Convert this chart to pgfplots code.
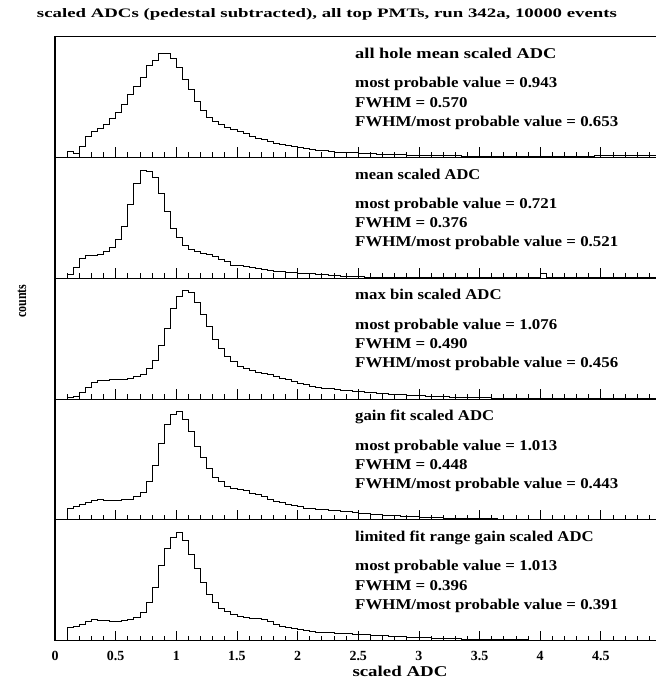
\documentclass[border=0pt]{standalone}
\usepackage{fontspec}
\setmainfont{Liberation Serif}
\usepackage{graphicx}
\usepackage{pgfplots}
\usepackage{pgfplotstable}
\pgfplotsset{compat=1.18}

% bin left edges (width 0.05) and contents; last row closes the final bin
\pgfplotstableread{
x y
0.10 0
0.10 19
0.15 13
0.20 34
0.25 64
0.30 78
0.35 86
0.40 99
0.45 116
0.50 136
0.55 159
0.60 189
0.65 213
0.70 241
0.75 277
0.80 291
0.85 313
0.90 313
0.95 296
1.00 271
1.05 233
1.10 203
1.15 169
1.20 141
1.25 119
1.30 108
1.35 98
1.40 89
1.45 83
1.50 78
1.55 71
1.60 63
1.65 58
1.70 53
1.75 48
1.80 43
1.85 39
1.90 36
1.95 33
2.00 30
2.05 26
2.10 24
2.15 22
2.20 20
2.25 19
2.30 16
2.35 16
2.40 15
2.45 14
2.50 13
2.55 12
2.60 11
2.65 10
2.70 10
2.75 9
2.80 8
2.85 8
2.90 7
2.95 7
3.00 6
3.05 6
3.10 6
3.15 5
3.20 5
3.25 5
3.30 5
3.35 4
3.40 4
3.45 4
3.50 4
3.55 4
3.60 4
3.65 3
3.70 3
3.75 3
3.80 3
3.85 3
3.90 3
3.95 3
4.00 3
4.05 3
4.10 3
4.15 3
4.20 3
4.25 3
4.30 3
4.35 4
4.40 4
4.45 5
4.50 5
4.55 5
4.60 6
4.65 6
4.70 6
4.75 6
4.80 6
4.85 6
4.90 6
4.95 6
5.00 6
}\histAllHole

\pgfplotstableread{
x y
0.10 0
0.10 11
0.15 33
0.20 61
0.25 68
0.30 68
0.35 71
0.40 80
0.45 92
0.50 116
0.55 155
0.60 221
0.65 283
0.70 324
0.75 321
0.80 301
0.85 253
0.90 200
0.95 151
1.00 123
1.05 100
1.10 88
1.15 81
1.20 75
1.25 72
1.30 65
1.35 58
1.40 50
1.45 40
1.50 38
1.55 36
1.60 33
1.65 30
1.70 28
1.75 25
1.80 22
1.85 20
1.90 19
1.95 17
2.00 16
2.05 15
2.10 14
2.15 12
2.20 12
2.25 10
2.30 9
2.35 7
2.40 6
2.45 5
2.50 5
2.55 4
2.60 4
2.65 4
2.70 3
2.75 3
2.80 3
2.85 3
2.90 3
2.95 3
3.00 3
3.05 3
3.10 3
3.15 3
3.20 2
3.25 2
3.30 2
3.35 2
3.40 2
3.45 2
3.50 2
3.55 2
3.60 2
3.65 2
3.70 2
3.75 2
3.80 2
3.85 2
3.90 2
3.95 2
4.00 15
4.05 2
4.10 2
4.15 2
4.20 2
4.25 2
4.30 2
4.35 2
4.40 2
4.45 2
4.50 2
4.55 2
4.60 2
4.65 2
4.70 2
4.75 2
4.80 2
4.85 2
4.90 2
4.95 2
5.00 2
}\histMean

\pgfplotstableread{
x y
0.10 0
0.10 5
0.15 9
0.20 20
0.25 35
0.30 51
0.35 55
0.40 57
0.45 58
0.50 60
0.55 59
0.60 63
0.65 68
0.70 75
0.75 92
0.80 117
0.85 162
0.90 213
0.95 272
1.00 308
1.05 326
1.10 321
1.15 290
1.20 255
1.25 218
1.30 178
1.35 151
1.40 129
1.45 114
1.50 99
1.55 93
1.60 86
1.65 80
1.70 76
1.75 73
1.80 69
1.85 63
1.90 59
1.95 53
2.00 47
2.05 43
2.10 39
2.15 36
2.20 33
2.25 31
2.30 29
2.35 27
2.40 25
2.45 23
2.50 22
2.55 20
2.60 19
2.65 17
2.70 16
2.75 15
2.80 14
2.85 13
2.90 12
2.95 11
3.00 10
3.05 9
3.10 8
3.15 8
3.20 7
3.25 6
3.30 6
3.35 5
3.40 5
3.45 4
3.50 4
3.55 4
3.60 3
3.65 3
3.70 3
3.75 3
3.80 3
3.85 3
3.90 2
3.95 2
4.00 2
4.05 2
4.10 2
4.15 2
4.20 2
4.25 2
4.30 2
4.35 2
4.40 2
4.45 2
4.50 2
4.55 2
4.60 2
4.65 2
4.70 2
4.75 2
4.80 2
4.85 2
4.90 2
4.95 2
5.00 2
}\histMaxBin

\pgfplotstableread{
x y
0.10 0
0.10 35
0.15 39
0.20 45
0.25 53
0.30 59
0.35 61
0.40 58
0.45 58
0.50 58
0.55 60
0.60 62
0.65 69
0.70 83
0.75 115
0.80 163
0.85 228
0.90 287
0.95 315
1.00 325
1.05 302
1.10 266
1.15 220
1.20 186
1.25 154
1.30 126
1.35 114
1.40 100
1.45 93
1.50 90
1.55 87
1.60 79
1.65 75
1.70 70
1.75 62
1.80 55
1.85 51
1.90 46
1.95 43
2.00 40
2.05 35
2.10 33
2.15 32
2.20 30
2.25 29
2.30 27
2.35 26
2.40 24
2.45 22
2.50 20
2.55 18
2.60 17
2.65 15
2.70 14
2.75 13
2.80 12
2.85 11
2.90 10
2.95 9
3.00 8
3.05 7
3.10 6
3.15 6
3.20 5
3.25 5
3.30 4
3.35 4
3.40 3
3.45 3
3.50 3
3.55 3
3.60 3
3.65 2
3.70 2
3.75 2
3.80 2
3.85 2
3.90 2
3.95 2
4.00 2
4.05 2
4.10 2
4.15 2
4.20 2
4.25 2
4.30 2
4.35 2
4.40 2
4.45 2
4.50 2
4.55 2
4.60 2
4.65 2
4.70 2
4.75 2
4.80 2
4.85 2
4.90 2
4.95 2
5.00 2
}\histGainFit

\pgfplotstableread{
x y
0.10 0
0.10 39
0.15 43
0.20 50
0.25 57
0.30 64
0.35 62
0.40 60
0.45 59
0.50 59
0.55 60
0.60 63
0.65 70
0.70 84
0.75 116
0.80 160
0.85 225
0.90 277
0.95 309
1.00 325
1.05 302
1.10 260
1.15 218
1.20 175
1.25 140
1.30 114
1.35 98
1.40 87
1.45 78
1.50 73
1.55 69
1.60 67
1.65 68
1.70 64
1.75 58
1.80 50
1.85 44
1.90 40
1.95 36
2.00 35
2.05 31
2.10 28
2.15 25
2.20 25
2.25 24
2.30 23
2.35 22
2.40 21
2.45 20
2.50 19
2.55 18
2.60 17
2.65 16
2.70 15
2.75 14
2.80 13
2.85 12
2.90 11
2.95 10
3.00 9
3.05 9
3.10 8
3.15 7
3.20 7
3.25 6
3.30 6
3.35 5
3.40 5
3.45 4
3.50 4
3.55 4
3.60 3
3.65 3
3.70 3
3.75 3
3.80 3
3.85 3
3.90 2
3.95 2
4.00 2
4.05 2
4.10 2
4.15 2
4.20 2
4.25 2
4.30 2
4.35 2
4.40 2
4.45 2
4.50 2
4.55 2
4.60 2
4.65 2
4.70 2
4.75 2
4.80 2
4.85 2
4.90 2
4.95 2
5.00 2
}\histLimitedFit

\pgfplotsset{
  panel/.style={
    scale only axis,
    width=606.5bp, height=120.8bp,
    anchor=south west,
    xmin=0, xmax=5, ymin=0, ymax=362,
    axis line style={black, line width=1.1bp},
    ytick=\empty,
    xtick={0,0.5,...,5},
    minor x tick num=4,
    xtick pos=bottom,
    tick align=inside,
    major tick length=10bp,
    minor tick length=5bp,
    every tick/.style={black, line width=0.8bp},
    xticklabels={},
  },
  histline/.style={const plot mark left, black, line width=0.8bp, mark=none},
}

\newcommand\statfont{\bfseries\fontsize{15}{15}\selectfont}
% statistics text, set slightly wide
\newcommand\stat[2][1.13]{\scalebox{#1}[1]{#2}}

\begin{document}
\begin{tikzpicture}
  % panels, from top to bottom
  \begin{axis}[panel, at={(55bp,530.5bp)}]
    \addplot[histline] table[x=x,y=y] {\histAllHole};
  \end{axis}
  \begin{axis}[panel, at={(55bp,409.7bp)}]
    \addplot[histline] table[x=x,y=y] {\histMean};
  \end{axis}
  \begin{axis}[panel, at={(55bp,288.9bp)}]
    \addplot[histline] table[x=x,y=y] {\histMaxBin};
  \end{axis}
  \begin{axis}[panel, at={(55bp,168.1bp)}]
    \addplot[histline] table[x=x,y=y] {\histGainFit};
  \end{axis}
  \begin{axis}[panel, at={(55bp,47.3bp)},
      xticklabels={0,0.5,1,1.5,2,2.5,3,3.5,4,4.5,5},
      xticklabel style={font=\bfseries\fontsize{14}{14}\selectfont, anchor=base, yshift=-20bp},
    ]
    \addplot[histline] table[x=x,y=y] {\histLimitedFit};
  \end{axis}

  % statistics of each panel
  \foreach \ptop/\hs/\name/\mpv/\fw/\ratio in {
      651.3/1.23/all hole mean scaled ADC/0.943/0.570/0.653,
      530.5/1.10/mean scaled ADC/0.721/0.376/0.521,
      409.7/1.12/max bin scaled ADC/1.076/0.490/0.456,
      288.9/1.12/gain fit scaled ADC/1.013/0.448/0.443,
      168.1/1.12/limited fit range gain scaled ADC/1.013/0.396/0.391}{
    \node[anchor=base west, inner sep=0pt, font=\statfont] at (355bp,\ptop bp-21.7bp) {\stat[\hs]{\name}};
    \node[anchor=base west, inner sep=0pt, font=\statfont] at (355bp,\ptop bp-51bp) {\stat{most probable value = \mpv}};
    \node[anchor=base west, inner sep=0pt, font=\statfont] at (355bp,\ptop bp-70.5bp) {\stat{FWHM = \fw}};
    \node[anchor=base west, inner sep=0pt, font=\statfont] at (355bp,\ptop bp-89.5bp) {\stat{FWHM/most probable value = \ratio}};
  }

  \node[anchor=base, inner sep=0pt, font=\bfseries\fontsize{13}{13}\selectfont]
    at (327bp,670bp) {\resizebox{580bp}{\height}{scaled ADCs (pedestal subtracted), all top PMTs, run 342a, 10000 events}};
  \node[rotate=90, inner sep=0pt, font=\bfseries\fontsize{12}{12}\selectfont]
    at (22bp,387bp) {\scalebox{1}[1.25]{counts}};
  \node[anchor=base, inner sep=0pt, font=\bfseries\fontsize{15}{15}\selectfont]
    at (400bp,11.5bp) {\resizebox{95bp}{\height}{scaled ADC}};

  \pgfresetboundingbox
  \path[use as bounding box] (0,0) rectangle (656bp,688bp);
\end{tikzpicture}
\end{document}
